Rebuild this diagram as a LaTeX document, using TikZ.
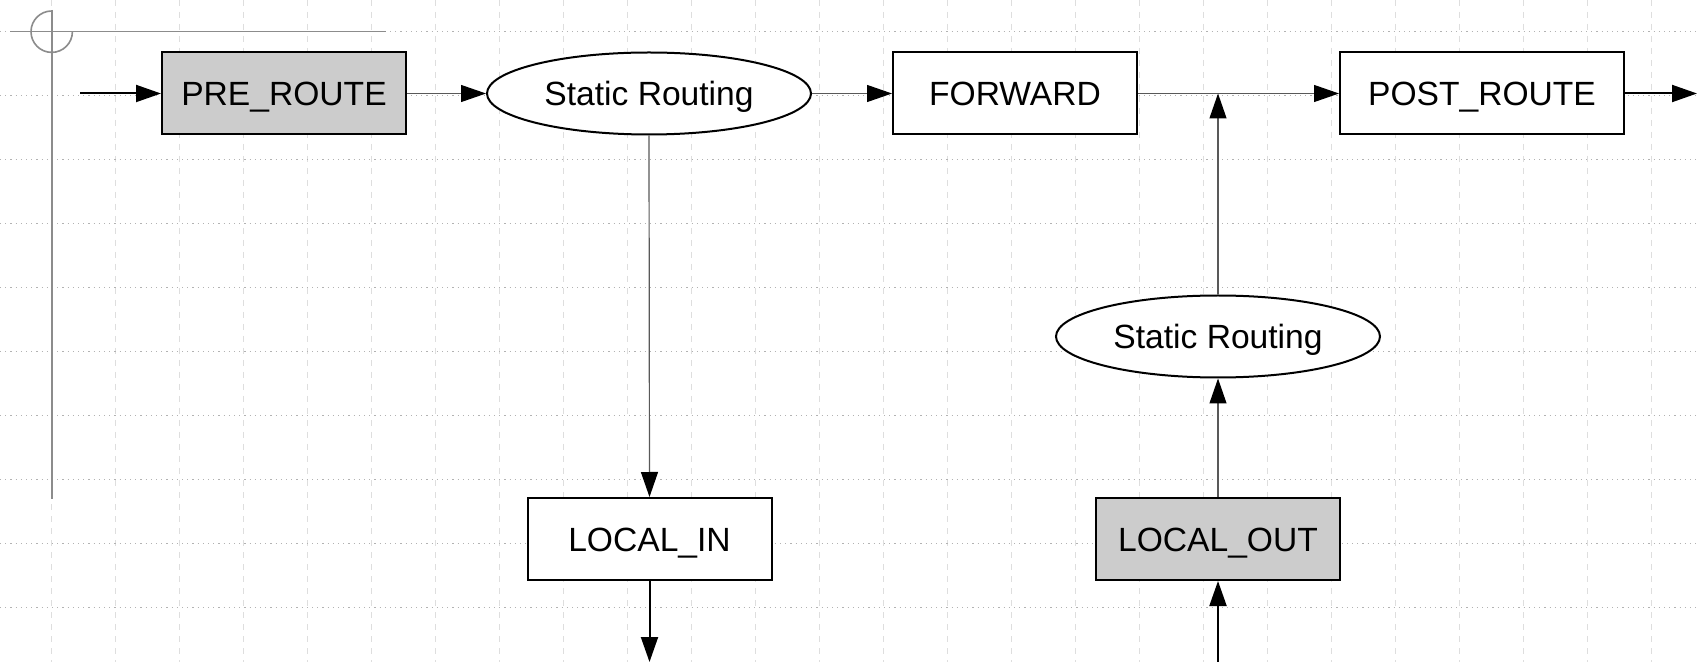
\documentclass[tikz,border=0pt]{standalone}
\usepackage{fontspec}
\setmainfont{Liberation Sans}
\usetikzlibrary{arrows.meta,shapes.geometric}

\begin{document}
\begin{tikzpicture}[x=0.5pt,y=-0.5pt,
  every node/.style={font=\fontsize{16.8pt}{20pt}\selectfont, inner sep=0pt,
                     text height=12pt, text depth=0pt},
  hookbox/.style={rectangle, draw=black, line width=1pt, fill=white,
                  minimum width=122pt, minimum height=41pt},
  shaded/.style={fill=black!20},
  router/.style={ellipse, draw=black, line width=1pt, fill=white,
                 minimum width=162pt, minimum height=41pt},
  tip/.style={-{Triangle[length=12.5pt,width=8.5pt,color=black]}},
  inner/.style={tip, draw=black!65, line width=0.6pt},
  outer/.style={tip, draw=black, line width=1pt},
  hgrid/.style={draw=black!30, line width=0.6pt, dotted},
  vgrid/.style={draw=black!13, line width=0.6pt, dashed},
  guide/.style={draw=black!45, line width=0.8pt}]

\useasboundingbox (0,0) rectangle (1697,662);
\fill[white] (0,0) rectangle (1697,662);

% page grid
\foreach \k in {0,...,25}
  \draw[vgrid] (51.7+64*\k,0) -- (51.7+64*\k,662);
\foreach \k in {0,...,9}
  \draw[hgrid] (0,31.7+64*\k) -- (1697,31.7+64*\k);

% origin marker
\draw[guide] (10,31.7) -- (386,31.7);
\draw[guide] (51.7,10) -- (51.7,499);
\draw[guide] (51.7,31.7) ++(0,-20.7) arc[start angle=90, end angle=360, radius=10.35pt];

% hooks and routing decisions
\node[hookbox, shaded] (pre)  at (284,93.5)   {PRE\_ROUTE};
\node[router]          (sr1)  at (649,93.5)   {Static Routing};
\node[hookbox]         (fwd)  at (1015,93.5)  {FORWARD};
\node[hookbox, minimum width=142pt] (post) at (1482,93.5) {POST\_ROUTE};
\node[hookbox]         (lin)  at (649.5,539)  {LOCAL\_IN};
\node[router]          (sr2)  at (1218,336.5) {Static Routing};
\node[hookbox, shaded] (lout) at (1218,539)   {LOCAL\_OUT};

% free ends
\coordinate (src)  at (80,93.5);
\coordinate (dst)  at (1697,93.5);
\coordinate (lsink) at (649.5,662);
\coordinate (lsrc) at (1218,662);
\coordinate (join) at (1218,93.5);

% packet paths
\draw[outer] (src) -- (pre);
\draw[inner] (pre) -- (sr1);
\draw[inner] (sr1) -- (fwd);
\draw[inner] (fwd) -- (post);
\draw[outer] (post) -- (dst);
\draw[inner] (sr1.south) -- (lin.north);
\draw[outer] (lin) -- (lsink);
\draw[outer] (lsrc) -- (lout);
\draw[inner] (lout.north) -- (sr2.south);
\draw[inner] (sr2.north) -- (join);
\end{tikzpicture}
\end{document}
